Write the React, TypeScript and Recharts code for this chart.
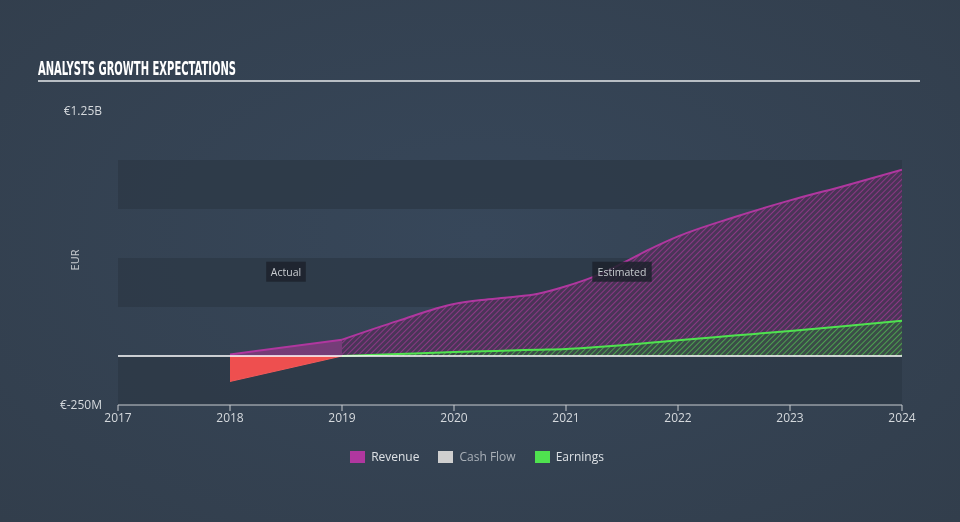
import { ComposedChart, Area, XAxis, YAxis, ReferenceArea, ReferenceLine, ReferenceDot, Legend } from 'recharts'

const PERIODS = [2018, 2019, 2019.5, 2020, 2020.25, 2020.5, 2020.75, 2021, 2021.25, 2021.5, 2021.75, 2022, 2022.5, 2023, 2023.5, 2024]
const REVENUE_ACTUAL = [0.008, 0.083, null, null, null, null, null, null, null, null, null, null, null, null, null, null]
const REVENUE_EST = [null, 0.083, 0.179, 0.265, 0.286, 0.3, 0.318, 0.356, 0.405, 0.472, 0.545, 0.61, 0.708, 0.794, 0.87, 0.95]
const EARNINGS_ACTUAL = [-0.13, 0.0, null, null, null, null, null, null, null, null, null, null, null, null, null, null]
const EARNINGS_EST = [null, 0.0, 0.01, 0.02, 0.024, 0.028, 0.032, 0.036, 0.045, 0.055, 0.067, 0.08, 0.104, 0.128, 0.153, 0.18]

const X_TICKS = [2017, 2018, 2019, 2020, 2021, 2022, 2023, 2024]
const Y_TICKS = [-0.25, 1.25]
const Y_TICK_LABELS: Record<string, string> = { '-0.25': '€-250M', '1.25': '€1.25B' }
const BANDS = [
	[-0.25, 0],
	[0.25, 0.5],
	[0.75, 1.0],
]
const PERIOD_LABELS = [
	{ x: 2018.5, y: 0.43, text: 'Actual' },
	{ x: 2021.5, y: 0.43, text: 'Estimated' },
]
const LEGEND = [
	{ name: 'Revenue', color: '#b0379f', text: '#dde1e5' },
	{ name: 'Cash Flow', color: '#cfcfcf', text: '#a9b0b8' },
	{ name: 'Earnings', color: '#4fe24f', text: '#dde1e5' },
]

const FONT = '"Open Sans", sans-serif'

const chartData = PERIODS.map((x, i) => ({
	x,
	revenueActual: REVENUE_ACTUAL[i],
	revenueEst: REVENUE_EST[i],
	earningsActual: EARNINGS_ACTUAL[i],
	earningsEst: EARNINGS_EST[i],
}))

// small dark box with a label for the actual / estimated parts
function PeriodLabel(props: any) {
	const { cx, cy, text } = props
	const w = text.length * 6.6
	return (
		<g>
			<rect x={cx - w / 2} y={cy - 10} width={w} height={20} fill="#1c222b" fillOpacity={0.85} />
			<text x={cx} y={cy + 4} textAnchor="middle" fill="#c8ccd0" fontSize={10.5} fontFamily={FONT}>
				{text}
			</text>
		</g>
	)
}

function renderLegend() {
	return (
		<div style={{ display: 'flex', justifyContent: 'center', gap: 19, fontFamily: FONT, fontSize: 12, marginLeft: -6 }}>
			{LEGEND.map((item) => (
				<div key={item.name} style={{ display: 'flex', alignItems: 'center' }}>
					<span style={{ width: 15, height: 12, background: item.color, marginRight: 6, display: 'inline-block' }} />
					<span style={{ color: item.text }}>{item.name}</span>
				</div>
			))}
		</div>
	)
}

export default function App() {
	return (
		<div
			style={{
				position: 'fixed',
				left: 0,
				top: 0,
				width: 960,
				height: 522,
				background: 'radial-gradient(ellipse at 50% 45%, #37475a 0%, #323e4c 100%)',
				overflow: 'hidden',
			}}
		>
			<svg width={960} height={522} style={{ position: 'absolute', left: 0, top: 0 }}>
				<text
					x={38}
					y={75}
					fill="#ffffff"
					fontSize={19}
					fontWeight="bold"
					fontFamily='"DejaVu Sans Condensed", "DejaVu Sans", sans-serif'
					textLength={198}
					lengthAdjust="spacingAndGlyphs"
				>
					ANALYSTS GROWTH EXPECTATIONS
				</text>
				<rect x={38} y={80} width={882} height={2} fill="#b8bec4" />
				<text x={79} y={260} transform="rotate(-90 79 260)" textAnchor="middle" fill="#c8ccd0" fontSize={11} fontFamily={FONT}>
					EUR
				</text>
			</svg>
			<div style={{ position: 'absolute', left: 0, top: 0 }}>
				<ComposedChart width={960} height={522} data={chartData} margin={{ top: 111, right: 58, bottom: 0, left: 58 }}>
					<defs>
						<pattern id="hatchPurple" width={4} height={4} patternUnits="userSpaceOnUse" patternTransform="rotate(45)">
							<rect width={4} height={4} fill="#4e3358" fillOpacity={0.85} />
							<line x1={0} y1={0} x2={0} y2={4} stroke="#b0379f" strokeWidth={1.5} strokeOpacity={0.85} />
						</pattern>
						<pattern id="hatchGreen" width={4} height={4} patternUnits="userSpaceOnUse" patternTransform="rotate(45)">
							<rect width={4} height={4} fill="#3b4c48" />
							<line x1={0} y1={0} x2={0} y2={4} stroke="#52c452" strokeWidth={1.6} strokeOpacity={0.9} />
						</pattern>
					</defs>
					<XAxis
						dataKey="x"
						type="number"
						domain={[2017, 2024]}
						ticks={X_TICKS}
						allowDataOverflow
						height={100}
						stroke="#c8ccd0"
						tickSize={6}
						tick={{ fill: '#d5d9dd', fontSize: 12, fontFamily: FONT }}
					/>
					<YAxis
						type="number"
						domain={[-0.25, 1.25]}
						ticks={Y_TICKS}
						width={60}
						axisLine={false}
						tickLine={false}
						tickMargin={10}
						tickFormatter={(v: number) => Y_TICK_LABELS[String(v)]}
						tick={{ fill: '#d5d9dd', fontSize: 12, fontFamily: FONT }}
					/>
					{BANDS.map(([y1, y2]) => (
						<ReferenceArea key={y1} y1={y1} y2={y2} x1={2017} x2={2024} fill="#2c3846" fillOpacity={0.75} stroke="none" />
					))}
					<Area
						dataKey="revenueActual"
						type="linear"
						stroke="#b0379f"
						strokeWidth={2}
						fill="#a0388f"
						fillOpacity={0.6}
						isAnimationActive={false}
						dot={false}
						activeDot={false}
					/>
					<Area
						dataKey="revenueEst"
						type="monotone"
						stroke="#b0379f"
						strokeWidth={2}
						fill="url(#hatchPurple)"
						fillOpacity={1}
						isAnimationActive={false}
						dot={false}
						activeDot={false}
					/>
					<Area
						dataKey="earningsActual"
						type="linear"
						stroke="#f05a5a"
						strokeWidth={1}
						fill="#ee4f4f"
						fillOpacity={1}
						isAnimationActive={false}
						dot={false}
						activeDot={false}
					/>
					<Area
						dataKey="earningsEst"
						type="monotone"
						stroke="#4fe24f"
						strokeWidth={2}
						fill="url(#hatchGreen)"
						fillOpacity={1}
						isAnimationActive={false}
						dot={false}
						activeDot={false}
					/>
					<ReferenceLine y={0} stroke="#ffffff" strokeWidth={1.5} />
					{PERIOD_LABELS.map((p) => (
						<ReferenceDot key={p.text} x={p.x} y={p.y} r={0} shape={(props: any) => <PeriodLabel {...props} text={p.text} />} />
					))}
					<Legend
						content={renderLegend}
						wrapperStyle={{ position: 'absolute', top: 448, left: 0, width: 960 }}
					/>
				</ComposedChart>
			</div>
		</div>
	)
}
